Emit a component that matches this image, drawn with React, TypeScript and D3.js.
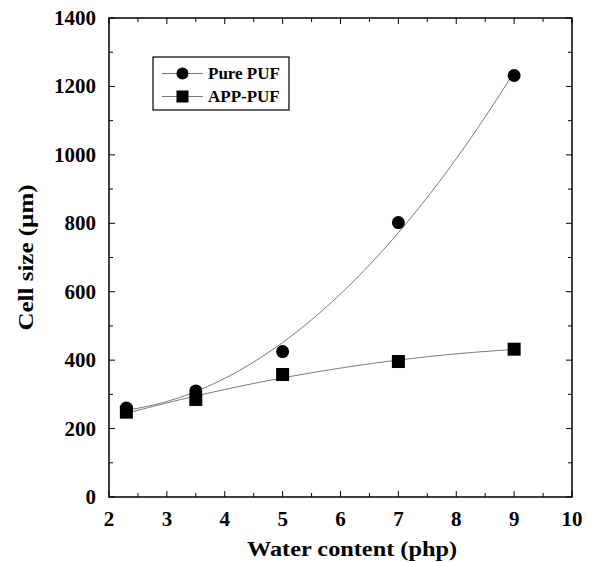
import React from "react";
import * as d3 from "d3";

const waterContent = [2.3, 3.5, 5, 7, 9];
const purePUF = [260, 310, 425, 802, 1232];
const appPUF = [248, 285, 358, 396, 432];
const xTicks = [2, 3, 4, 5, 6, 7, 8, 9, 10];
const yTicks = [0, 200, 400, 600, 800, 1000, 1200, 1400];

const W = 595, H = 562;
const M = { left: 109, right: 572, top: 18, bottom: 497 };

function polyfit2(xs: number[], ys: number[]) {
  const S = [0, 0, 0, 0, 0];
  const T = [0, 0, 0];
  xs.forEach((x, i) => {
    for (let k = 0; k < 5; k++) S[k] += Math.pow(x, k);
    for (let k = 0; k < 3; k++) T[k] += Math.pow(x, k) * ys[i];
  });
  const A = [
    [S[0], S[1], S[2], T[0]],
    [S[1], S[2], S[3], T[1]],
    [S[2], S[3], S[4], T[2]],
  ];
  for (let i = 0; i < 3; i++) {
    for (let j = i + 1; j < 3; j++) {
      const f = A[j][i] / A[i][i];
      for (let k = i; k < 4; k++) A[j][k] -= f * A[i][k];
    }
  }
  const c = [0, 0, 0];
  for (let i = 2; i >= 0; i--) {
    let s = A[i][3];
    for (let k = i + 1; k < 3; k++) s -= A[i][k] * c[k];
    c[i] = s / A[i][i];
  }
  return (x: number) => c[0] + c[1] * x + c[2] * x * x;
}

const FF = "'Liberation Serif'";

export default function App() {
  const x = d3.scaleLinear().domain([2, 10]).range([M.left, M.right]);
  const y = d3.scaleLinear().domain([0, 1400]).range([M.bottom, M.top]);
  const xs = d3.range(2.3, 9.0001, 0.05);
  const fitP = polyfit2(waterContent, purePUF);
  const fitA = polyfit2(waterContent, appPUF);
  const line = d3.line<[number, number]>().x(d => x(d[0])).y(d => y(d[1]));
  const pathP = line(xs.map(v => [v, fitP(v)] as [number, number]));
  const pathA = line(xs.map(v => [v, fitA(v)] as [number, number]));
  const xMinor = d3.range(2.5, 10, 1);
  const yMinor = d3.range(100, 1400, 200);
  const maj = 6, min = 4;
  return (
    <svg width={W} height={H} style={{ position: "absolute", left: 0, top: 0, background: "#fff" }}>
      <rect x={M.left} y={M.top} width={M.right - M.left} height={M.bottom - M.top} fill="none" stroke="#000" strokeWidth={1.5} />
      {xTicks.map(t => (
        <g key={"xt" + t}>
          <line x1={x(t)} x2={x(t)} y1={M.bottom} y2={M.bottom - maj} stroke="#000" />
          <line x1={x(t)} x2={x(t)} y1={M.top} y2={M.top + maj} stroke="#000" />
          <text x={x(t)} y={526} textAnchor="middle" fontSize={21} fontWeight="bold" fontFamily={FF}>{t}</text>
        </g>
      ))}
      {xMinor.map(t => (
        <g key={"xm" + t}>
          <line x1={x(t)} x2={x(t)} y1={M.bottom} y2={M.bottom - min} stroke="#000" />
          <line x1={x(t)} x2={x(t)} y1={M.top} y2={M.top + min} stroke="#000" />
        </g>
      ))}
      {yTicks.map(t => (
        <g key={"yt" + t}>
          <line x1={M.left} x2={M.left + maj} y1={y(t)} y2={y(t)} stroke="#000" />
          <line x1={M.right} x2={M.right - maj} y1={y(t)} y2={y(t)} stroke="#000" />
          <text x={96} y={y(t) + 7} textAnchor="end" fontSize={21} fontWeight="bold" fontFamily={FF}>{t}</text>
        </g>
      ))}
      {yMinor.map(t => (
        <g key={"ym" + t}>
          <line x1={M.left} x2={M.left + min} y1={y(t)} y2={y(t)} stroke="#000" />
          <line x1={M.right} x2={M.right - min} y1={y(t)} y2={y(t)} stroke="#000" />
        </g>
      ))}
      <path d={pathP || ""} fill="none" stroke="#777" strokeWidth={1} />
      <path d={pathA || ""} fill="none" stroke="#777" strokeWidth={1} />
      {waterContent.map((v, i) => (
        <circle key={"p" + i} cx={x(v)} cy={y(purePUF[i])} r={6.5} fill="#000" />
      ))}
      {waterContent.map((v, i) => (
        <rect key={"a" + i} x={x(v) - 6.5} y={y(appPUF[i]) - 6.5} width={13} height={13} fill="#000" />
      ))}
      <text x={352} y={556} textAnchor="middle" fontSize={21} fontWeight="bold" fontFamily={FF} textLength={210} lengthAdjust="spacingAndGlyphs">Water content (php)</text>
      <text transform={`translate(33, ${(M.top + M.bottom) / 2}) rotate(-90)`} textAnchor="middle" fontSize={21} fontWeight="bold" fontFamily={FF} textLength={146} lengthAdjust="spacingAndGlyphs">Cell size (µm)</text>
      <rect x={153} y={57} width={136} height={53} fill="#fff" stroke="#000" strokeWidth={1.2} />
      <line x1={162} x2={203} y1={73.5} y2={73.5} stroke="#777" />
      <circle cx={182.5} cy={73.5} r={6} fill="#000" />
      <text x={208} y={79} fontSize={17} fontWeight="bold" fontFamily={FF}>Pure PUF</text>
      <line x1={162} x2={203} y1={96.5} y2={96.5} stroke="#777" />
      <rect x={176.5} y={90.5} width={12} height={12} fill="#000" />
      <text x={208} y={102} fontSize={17} fontWeight="bold" fontFamily={FF}>APP-PUF</text>
    </svg>
  );
}
